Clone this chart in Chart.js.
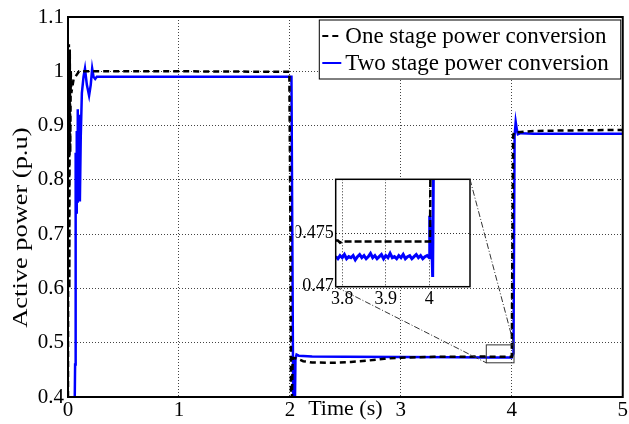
<!DOCTYPE html>
<html>
<head>
<meta charset="utf-8">
<script src="https://cdn.jsdelivr.net/npm/chart.js@4.4.0/dist/chart.umd.min.js"></script>
<style>
html, body { margin: 0; padding: 0; background: #fff; }
#wrap { position: relative; width: 629px; height: 424px; }
#wrap canvas { position: absolute; left: 0; top: 0; }
</style>
</head>
<body>
<div id="wrap">
  <canvas id="mainChart" width="629" height="424"></canvas>
  <canvas id="zoomChart" width="629" height="424"></canvas>
</div>
<script>
// series names and axis ticks
var seriesNames = ['One stage power conversion', 'Two stage power conversion'];
var xTicks = [0, 1, 2, 3, 4, 5];
var yTicks = [0.4, 0.5, 0.6, 0.7, 0.8, 0.9, 1.0, 1.1];

// one stage (black dashed), time in s / power in p.u
var oneT = [0, 0.004, 0.008, 0.012, 0.016, 0.02, 0.025, 0.03, 0.05, 0.1, 1.0, 1.995,
  2.005, 2.01, 2.018, 2.025, 2.06, 2.12, 2.2, 2.4, 2.55, 2.7, 2.85, 3.0, 3.3, 3.785,
  3.8, 4.0, 4.003, 4.012, 4.02, 4.2, 4.5, 5.0];
var oneP = [0.4, 0.95, 1.05, 0.6, 1.04, 0.85, 1.0, 0.96, 0.985, 1.0, 1.0, 0.999,
  0.7, 0.39, 0.39, 0.472, 0.471, 0.466, 0.4635, 0.463, 0.4645, 0.467, 0.4705, 0.4725, 0.474, 0.4745,
  0.4742, 0.4743, 0.6, 0.882, 0.887, 0.89, 0.891, 0.892];

// two stage (blue)
var twoT = [0.06, 0.064, 0.066, 0.069, 0.072, 0.075, 0.079, 0.083, 0.088, 0.093, 0.1, 0.107,
  0.115, 0.125, 0.14, 0.153, 0.17, 0.19, 0.205, 0.218, 0.23, 0.245, 0.26, 1.0, 2.014,
  2.03, 2.045, 2.05, 2.06, 2.08, 2.2, 2.5, 3.0, 3.5, 3.785, 4.0, 4.015, 4.025, 4.035,
  4.045, 4.055, 4.08, 4.2, 5.0];
var twoP = [0.38, 0.46, 0.70, 0.68, 0.85, 0.74, 0.89, 0.76, 0.93, 0.77, 0.92, 0.76,
  0.88, 0.96, 0.99, 1.005, 0.975, 0.955, 0.975, 1.005, 0.99, 0.986, 0.99, 0.99, 0.99,
  0.38, 0.38, 0.47, 0.478, 0.476, 0.4745, 0.474, 0.4735, 0.473, 0.4728, 0.4728, 0.48, 0.88, 0.907,
  0.893, 0.884, 0.886, 0.885, 0.885];

// zoomed window 3.785 .. 4.09 s
var zoomXTicks = [3.8, 3.9, 4];
var zoomYTicks = [0.47, 0.475, 0.48];
var zoomOneT = [3.785, 3.79, 3.795, 3.8, 3.81, 3.85, 3.9, 3.95, 4.0, 4.0016, 4.004, 4.1];
var zoomOneP = [0.4743, 0.4743, 0.4741, 0.4742, 0.4742, 0.4742, 0.4742, 0.4742, 0.4742, 0.4742, 0.49, 0.5];
var zoomTwoT = [3.785, 3.79, 3.795, 3.8, 3.805, 3.81, 3.815, 3.82, 3.825, 3.83,
  3.835, 3.84, 3.845, 3.85, 3.855, 3.86, 3.865, 3.87, 3.875, 3.88,
  3.885, 3.89, 3.895, 3.9, 3.905, 3.91, 3.915, 3.92, 3.925, 3.93,
  3.935, 3.94, 3.945, 3.95, 3.955, 3.96, 3.965, 3.97, 3.975, 3.98,
  3.985, 3.99, 3.995, 4.0, 4.001, 4.003, 4.005, 4.0077, 4.011, 4.02];
var zoomTwoP = [0.4728, 0.4726, 0.4729, 0.4727, 0.4730, 0.4726, 0.4728, 0.4727, 0.4729, 0.4725,
  0.4728, 0.4730, 0.4727, 0.4729, 0.4726, 0.4728, 0.4731, 0.4727, 0.4729, 0.4726,
  0.4728, 0.4730, 0.4726, 0.4729, 0.4727, 0.4731, 0.4727, 0.4728, 0.4726, 0.4729,
  0.4727, 0.4730, 0.4726, 0.4728, 0.4729, 0.4726, 0.4728, 0.4730, 0.4727, 0.4729,
  0.4726, 0.4728, 0.4729, 0.4727, 0.4766, 0.4735, 0.4752, 0.4709, 0.49, 0.6];

var FONT = "'Liberation Serif', 'Times New Roman', serif";
var BLUE = '#0000ff';
Chart.defaults.color = '#000';

function pts(t, p) {
  return t.map(function (x, i) { return { x: x, y: p[i] }; });
}
function fmt(v) { return String(Number(v.toFixed(3))); }

// region of the main plot that the inset blows up
var markRegion = { x0: 3.77, x1: 4.02, y0: 0.463, y1: 0.496 };

var framePlugin = {
  id: 'frame',
  afterDatasetsDraw: function (chart) {
    var c = chart.ctx, xs = chart.scales.x, ys = chart.scales.y;
    var l = xs.getPixelForValue(markRegion.x0), r = xs.getPixelForValue(markRegion.x1);
    var t = ys.getPixelForValue(markRegion.y1), b = ys.getPixelForValue(markRegion.y0);
    c.save();
    c.strokeStyle = '#333';
    c.lineWidth = 1;
    c.strokeRect(l, t, r - l, b - t);
    c.restore();
  },
  afterDraw: function (chart) {
    var c = chart.ctx, a = chart.chartArea;
    c.save();
    c.strokeStyle = '#000';
    c.lineWidth = 2;
    c.strokeRect(a.left, a.top, a.right - a.left, a.bottom - a.top);

    // legend
    c.font = '23px ' + FONT;
    var tw = Math.max(c.measureText(seriesNames[0]).width, c.measureText(seriesNames[1]).width);
    var bw = tw + 38, bh = 59;
    var bx = a.right - 2 - bw, by = a.top + 3;
    c.fillStyle = '#fff';
    c.fillRect(bx, by, bw, bh);
    c.lineWidth = 1;
    c.strokeStyle = '#000';
    c.strokeRect(bx, by, bw, bh);
    var rows = [by + 16, by + 43];
    var ds = chart.data.datasets;
    for (var i = 0; i < 2; i++) {
      c.beginPath();
      c.strokeStyle = ds[i].borderColor;
      c.lineWidth = 2;
      c.setLineDash(i === 0 ? [6, 4] : []);
      c.moveTo(bx + 3, rows[i]);
      c.lineTo(bx + 22, rows[i]);
      c.stroke();
      c.setLineDash([]);
      c.fillStyle = '#000';
      c.textBaseline = 'middle';
      c.textAlign = 'left';
      c.fillText(seriesNames[i], bx + 26, rows[i] + 1);
    }

    // axis titles
    c.fillStyle = '#000';
    c.font = '22px ' + FONT;
    c.textAlign = 'center';
    c.textBaseline = 'top';
    c.fillText('Time (s)', chart.scales.x.getPixelForValue(2.5), a.bottom + 1);
    c.translate(21, chart.scales.y.getPixelForValue(0.712));
    c.rotate(-Math.PI / 2);
    c.scale(1.2, 1);
    c.textBaseline = 'middle';
    c.fillText('Active power (p.u)', 0, 0);
    c.restore();
  }
};

var mainChart = new Chart(document.getElementById('mainChart'), {
  type: 'line',
  data: {
    datasets: [
      { label: seriesNames[0], data: pts(oneT, oneP), borderColor: '#000', borderWidth: 2.5,
        borderDash: [6, 4], pointRadius: 0, tension: 0, fill: false },
      { label: seriesNames[1], data: pts(twoT, twoP), borderColor: BLUE, borderWidth: 2.5,
        pointRadius: 0, tension: 0, fill: false }
    ]
  },
  options: {
    responsive: false,
    animation: false,
    events: [],
    layout: { padding: { left: 0, right: 6, top: 17, bottom: 0 } },
    plugins: { legend: { display: false }, tooltip: { enabled: false } },
    scales: {
      x: {
        type: 'linear', min: 0, max: 5,
        afterBuildTicks: function (s) { s.ticks = xTicks.map(function (v) { return { value: v }; }); },
        afterFit: function (s) { s.height = 27; },
        grid: { color: '#444', lineWidth: 1, drawTicks: false },
        border: { display: false, dash: [1, 2] },
        ticks: { padding: 1, font: { family: FONT, size: 21 }, color: '#000', maxRotation: 0,
          callback: function (v) { return fmt(v); } }
      },
      y: {
        type: 'linear', min: 0.4, max: 1.1,
        afterBuildTicks: function (s) { s.ticks = yTicks.map(function (v) { return { value: v }; }); },
        afterFit: function (s) { s.width = 68; },
        grid: { color: '#444', lineWidth: 1, drawTicks: false },
        border: { display: false, dash: [1, 2] },
        ticks: { padding: 4, font: { family: FONT, size: 21 }, color: '#000',
          callback: function (v) { return fmt(v); } }
      }
    }
  },
  plugins: [framePlugin]
});

var insetPlugin = {
  id: 'inset',
  beforeDraw: function (chart) {
    var c = chart.ctx, a = chart.chartArea;
    c.save();
    c.fillStyle = '#fff';
    c.fillRect(a.left, a.top, a.right - a.left, a.bottom - a.top);
    c.restore();
  },
  afterDraw: function (chart) {
    var c = chart.ctx, a = chart.chartArea;
    var xs = mainChart.scales.x, ys = mainChart.scales.y;
    c.save();
    c.strokeStyle = '#000';
    c.lineWidth = 1.5;
    c.strokeRect(a.left, a.top, a.right - a.left, a.bottom - a.top);
    // dash-dot connectors to the marked region
    c.strokeStyle = '#333';
    c.lineWidth = 1;
    c.setLineDash([6, 2, 1, 2]);
    c.beginPath();
    c.moveTo(a.left, a.bottom);
    c.lineTo(xs.getPixelForValue(markRegion.x0), ys.getPixelForValue(markRegion.y0));
    c.moveTo(a.right, a.top);
    c.lineTo(xs.getPixelForValue(markRegion.x1), ys.getPixelForValue(markRegion.y1));
    c.stroke();
    c.restore();
  }
};

new Chart(document.getElementById('zoomChart'), {
  type: 'line',
  data: {
    datasets: [
      { label: seriesNames[0], data: pts(zoomOneT, zoomOneP), borderColor: '#000', borderWidth: 2.5,
        borderDash: [7, 3], pointRadius: 0, tension: 0, fill: false },
      { label: seriesNames[1], data: pts(zoomTwoT, zoomTwoP), borderColor: BLUE, borderWidth: 3,
        pointRadius: 0, tension: 0, fill: false }
    ]
  },
  options: {
    responsive: false,
    animation: false,
    events: [],
    layout: { padding: { left: 295.7, right: 159, top: 179.3, bottom: 114.3 } },
    plugins: { legend: { display: false }, tooltip: { enabled: false } },
    scales: {
      x: {
        type: 'linear', min: 3.785, max: 4.0935,
        afterBuildTicks: function (s) { s.ticks = zoomXTicks.map(function (v) { return { value: v }; }); },
        afterFit: function (s) { s.height = 23; },
        grid: { color: '#333', lineWidth: 1, drawTicks: false },
        border: { display: false, dash: [1, 2] },
        ticks: { padding: 2, font: { family: FONT, size: 18 }, color: '#000', maxRotation: 0,
          callback: function (v) { return fmt(v); } }
      },
      y: {
        type: 'linear', min: 0.47, max: 0.48,
        afterBuildTicks: function (s) { s.ticks = zoomYTicks.map(function (v) { return { value: v }; }); },
        afterFit: function (s) { s.width = 40; },
        grid: { color: '#333', lineWidth: 1, drawTicks: false },
        border: { display: false, dash: [1, 2] },
        ticks: { padding: 2, font: { family: FONT, size: 18 }, color: '#000',
          callback: function (v) { return v >= 0.48 ? '' : fmt(v); } }
      }
    }
  },
  plugins: [insetPlugin]
});
</script>
</body>
</html>
